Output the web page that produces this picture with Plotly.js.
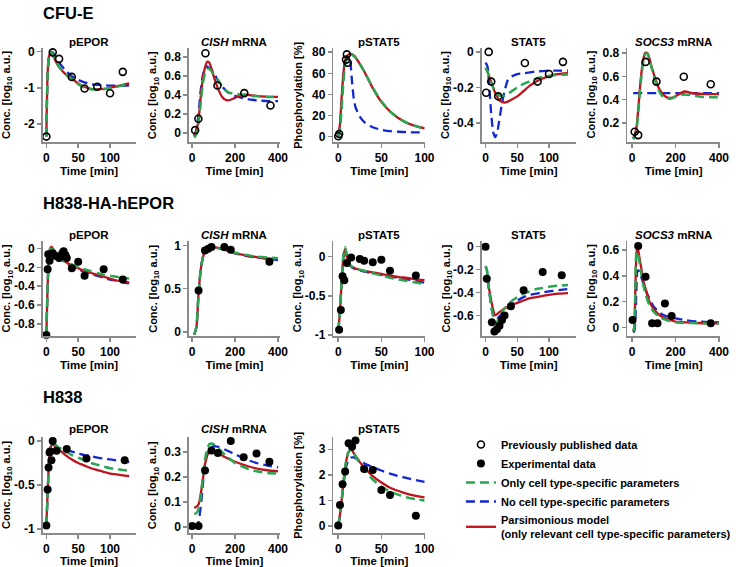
<!DOCTYPE html>
<html>
<head>
<meta charset="utf-8">
<script src="https://cdn.plot.ly/plotly-3.0.1.min.js"></script>
<style>html,body{margin:0;padding:0;background:#fff;}#chart{width:736px;height:567px;}</style>
</head>
<body>
<div id="chart"></div>
<script>
// ---------------- DATA ----------------
// Row 1: CFU-E (previously published data, open circles)
const cfuE_pEPOR_t      = [0,2,4,6,8,10,15,20,30,40,50,60,70,80,90,100,110,120,130];
const cfuE_pEPOR_red    = [-2.35,-0.6,-0.15,-0.05,-0.04,-0.1,-0.28,-0.43,-0.62,-0.75,-0.88,-0.98,-1.03,-1.04,-1.03,-1.0,-0.96,-0.92,-0.88];
const cfuE_pEPOR_green  = [-2.35,-0.65,-0.12,-0.03,-0.01,-0.07,-0.26,-0.42,-0.62,-0.76,-0.9,-1.0,-1.04,-1.05,-1.04,-1.01,-0.97,-0.93,-0.89];
const cfuE_pEPOR_blue   = [-2.35,-0.6,-0.2,-0.05,0.0,-0.02,-0.15,-0.3,-0.52,-0.68,-0.78,-0.85,-0.9,-0.92,-0.93,-0.94,-0.94,-0.94,-0.93];
const cfuE_pEPOR_dataT  = [0,10,20,40,60,80,100,120];
const cfuE_pEPOR_dataY  = [-2.35,-0.02,-0.2,-0.7,-1.02,-0.97,-1.15,-0.56];

const cfuE_CISH_t       = [10,20,30,40,50,60,70,80,100,120,140,160,180,200,240,280,320,360,400];
const cfuE_CISH_red     = [-0.03,0.03,0.14,0.38,0.58,0.69,0.75,0.74,0.6,0.47,0.38,0.345,0.35,0.37,0.405,0.395,0.385,0.38,0.38];
const cfuE_CISH_green   = [-0.05,-0.01,0.1,0.32,0.52,0.63,0.67,0.675,0.62,0.56,0.49,0.44,0.42,0.415,0.4,0.39,0.385,0.38,0.38];
const cfuE_CISH_blue    = [-0.03,0.04,0.2,0.45,0.61,0.68,0.7,0.68,0.64,0.55,0.49,0.44,0.41,0.39,0.365,0.35,0.34,0.335,0.335];
const cfuE_CISH_dataT   = [14,29,62,118,243,365];
const cfuE_CISH_dataY   = [0.03,0.15,0.84,0.5,0.42,0.29];

const cfuE_pSTAT5_t     = [0,2,4,6,8,10,12,14,16,18,20,25,30,40,50,60,70,80,90,100];
const cfuE_pSTAT5_red   = [0,12,38,60,72,76,78,78.5,78,77,75,69,62,46,33,24,17.5,13,10,8];
const cfuE_pSTAT5_green = [0,7,28,52,68,74,77,78,77.5,76.5,75,69,62,46.5,33.5,24,17.5,13,10,7.5];
const cfuE_pSTAT5_blue  = [0,10,32,58,70,74,74,70,52,36,28,19,14,9,6.5,5.2,4.7,4.3,4.1,4];
const cfuE_pSTAT5_dataT = [0,1,9,10,11];
const cfuE_pSTAT5_dataY = [0.5,2.5,73,78,70];

const cfuE_STAT5_t      = [0,3,6,9,12,15,18,21,25,30,35,40,50,60,70,80,90,100,110,120,130];
const cfuE_STAT5_red    = [-0.09,-0.11,-0.14,-0.17,-0.2,-0.23,-0.25,-0.27,-0.28,-0.285,-0.28,-0.27,-0.25,-0.22,-0.19,-0.167,-0.15,-0.136,-0.127,-0.122,-0.12];
const cfuE_STAT5_green  = [-0.09,-0.11,-0.14,-0.17,-0.2,-0.22,-0.235,-0.245,-0.248,-0.245,-0.235,-0.225,-0.2,-0.18,-0.165,-0.15,-0.14,-0.135,-0.13,-0.128,-0.127];
const cfuE_STAT5_blue   = [-0.06,-0.08,-0.2,-0.35,-0.45,-0.48,-0.46,-0.4,-0.31,-0.22,-0.16,-0.14,-0.125,-0.12,-0.115,-0.11,-0.108,-0.106,-0.105,-0.105,-0.105];
const cfuE_STAT5_dataT  = [1,5,9,20,62,82,100,122];
const cfuE_STAT5_dataY  = [-0.23,0.0,-0.167,-0.25,-0.062,-0.167,-0.124,-0.056];

const cfuE_SOCS3_t      = [5,10,20,30,40,50,60,70,80,90,100,120,140,160,180,200,240,280,320,360,400];
const cfuE_SOCS3_red    = [0.07,0.09,0.16,0.36,0.58,0.73,0.8,0.8,0.75,0.68,0.62,0.51,0.45,0.42,0.415,0.43,0.47,0.455,0.45,0.448,0.447];
const cfuE_SOCS3_green  = [0.06,0.08,0.14,0.33,0.55,0.71,0.79,0.795,0.75,0.67,0.6,0.49,0.43,0.41,0.41,0.425,0.445,0.435,0.425,0.42,0.42];
const cfuE_SOCS3_blue   = [0.456,0.456,0.456,0.456,0.456,0.456,0.456,0.456,0.456,0.456,0.456,0.456,0.456,0.456,0.456,0.456,0.456,0.456,0.456,0.456,0.456];
const cfuE_SOCS3_dataT  = [12,28,62,112,238,362];
const cfuE_SOCS3_dataY  = [0.125,0.096,0.724,0.555,0.596,0.532];

// Row 2: H838-HA-hEPOR (experimental data, filled circles)
const hepor_pEPOR_t     = [0,2,4,6,8,10,15,20,30,40,50,60,70,80,90,100,110,120,130];
const hepor_pEPOR_red   = [-0.92,-0.4,-0.1,0.0,0.02,0.0,-0.05,-0.09,-0.14,-0.18,-0.21,-0.24,-0.26,-0.28,-0.3,-0.32,-0.34,-0.35,-0.36];
const hepor_pEPOR_green = [-0.92,-0.4,-0.1,-0.01,0.0,-0.02,-0.06,-0.1,-0.14,-0.17,-0.2,-0.22,-0.24,-0.26,-0.28,-0.29,-0.3,-0.31,-0.32];
const hepor_pEPOR_blue  = [-0.92,-0.4,-0.1,0.0,0.01,-0.01,-0.06,-0.1,-0.15,-0.19,-0.22,-0.25,-0.27,-0.29,-0.31,-0.33,-0.34,-0.36,-0.37];
const hepor_pEPOR_dataT = [0,2,3,5,10,15,20,25,27,30,32,40,50,60,90,120];
const hepor_pEPOR_dataY = [-0.92,-0.22,-0.06,-0.13,-0.05,-0.08,-0.1,-0.05,-0.03,-0.07,-0.1,-0.21,-0.14,-0.29,-0.22,-0.33];

const hepor_CISH_t      = [10,20,30,40,50,60,80,100,120,150,200,250,300,350,400];
const hepor_CISH_red    = [-0.03,0.06,0.45,0.72,0.86,0.93,0.975,0.98,0.97,0.95,0.91,0.885,0.865,0.85,0.84];
const hepor_CISH_green  = [-0.03,0.06,0.45,0.72,0.86,0.93,0.975,0.98,0.97,0.95,0.915,0.89,0.87,0.86,0.85];
const hepor_CISH_blue   = [-0.03,0.06,0.45,0.72,0.86,0.93,0.975,0.98,0.97,0.948,0.908,0.88,0.86,0.845,0.83];
const hepor_CISH_dataT  = [30,60,75,90,150,180,360];
const hepor_CISH_dataY  = [0.48,0.94,0.96,0.98,0.98,0.95,0.81];

const hepor_pSTAT5_t     = [0,2,4,6,8,10,12,15,20,30,40,50,60,70,80,90,100];
const hepor_pSTAT5_red   = [-0.95,-0.7,-0.3,0.0,0.1,0.0,-0.08,-0.12,-0.15,-0.18,-0.2,-0.22,-0.24,-0.26,-0.27,-0.29,-0.3];
const hepor_pSTAT5_green = [-0.95,-0.7,-0.3,0.02,0.12,0.02,-0.07,-0.12,-0.15,-0.18,-0.21,-0.24,-0.27,-0.29,-0.31,-0.33,-0.35];
const hepor_pSTAT5_blue  = [-0.95,-0.7,-0.3,0.0,0.1,0.0,-0.08,-0.13,-0.16,-0.19,-0.21,-0.23,-0.25,-0.27,-0.29,-0.31,-0.33];
const hepor_pSTAT5_dataT = [1,3,5,7,10,15,25,30,40,50,60,90];
const hepor_pSTAT5_dataY = [-0.93,-0.68,-0.25,-0.3,-0.08,-0.01,-0.03,-0.05,-0.07,-0.04,-0.18,-0.24];

const hepor_STAT5_t     = [0,2,5,10,15,18,20,25,30,40,50,60,70,80,90,100,115,130];
const hepor_STAT5_red   = [-0.25,-0.27,-0.35,-0.5,-0.6,-0.59,-0.58,-0.56,-0.54,-0.51,-0.49,-0.47,-0.45,-0.44,-0.43,-0.42,-0.41,-0.405];
const hepor_STAT5_green = [-0.17,-0.2,-0.35,-0.55,-0.67,-0.66,-0.63,-0.58,-0.54,-0.48,-0.44,-0.41,-0.39,-0.37,-0.36,-0.35,-0.34,-0.335];
const hepor_STAT5_blue  = [-0.17,-0.2,-0.35,-0.55,-0.63,-0.63,-0.62,-0.59,-0.56,-0.51,-0.47,-0.44,-0.42,-0.41,-0.4,-0.39,-0.38,-0.37];
const hepor_STAT5_dataT = [0,2,10,14,18,22,26,30,40,60,90,120];
const hepor_STAT5_dataY = [0.0,-0.28,-0.66,-0.74,-0.72,-0.69,-0.64,-0.6,-0.52,-0.38,-0.22,-0.25];

const hepor_SOCS3_t     = [5,10,15,20,25,30,40,50,60,80,100,130,160,200,250,300,400];
const hepor_SOCS3_red   = [-0.03,0.0,0.3,0.57,0.62,0.58,0.48,0.38,0.31,0.2,0.14,0.09,0.065,0.045,0.038,0.034,0.031];
const hepor_SOCS3_green = [-0.03,0.0,0.32,0.58,0.59,0.55,0.44,0.34,0.27,0.17,0.12,0.075,0.055,0.04,0.035,0.032,0.03];
const hepor_SOCS3_blue  = [-0.04,-0.03,0.05,0.3,0.44,0.44,0.4,0.35,0.3,0.22,0.16,0.11,0.085,0.07,0.055,0.045,0.039];
const hepor_SOCS3_dataT = [2,28,62,92,117,151,182,362];
const hepor_SOCS3_dataY = [0.057,0.631,0.393,0.031,0.031,0.186,0.088,0.031];

// Row 3: H838 (experimental data, filled circles)
const h838_pEPOR_t      = [0,2,4,6,8,10,15,20,30,40,50,60,70,80,90,100,110,120,130];
const h838_pEPOR_red    = [-0.96,-0.6,-0.25,-0.1,-0.05,-0.04,-0.07,-0.1,-0.16,-0.21,-0.25,-0.28,-0.31,-0.33,-0.35,-0.37,-0.38,-0.39,-0.4];
const h838_pEPOR_green  = [-0.96,-0.6,-0.25,-0.08,-0.04,-0.03,-0.05,-0.08,-0.12,-0.16,-0.19,-0.22,-0.25,-0.27,-0.29,-0.31,-0.32,-0.33,-0.34];
const h838_pEPOR_blue   = [-0.96,-0.6,-0.25,-0.08,-0.04,-0.03,-0.05,-0.08,-0.1,-0.12,-0.14,-0.16,-0.17,-0.19,-0.2,-0.21,-0.22,-0.23,-0.24];
const h838_pEPOR_dataT  = [0,2,3.5,5,6,8,10,16,32,63,123];
const h838_pEPOR_dataY  = [-0.96,-0.55,-0.3,-0.13,-0.12,-0.22,0.0,-0.11,-0.09,-0.2,-0.22];

const h838_CISH_t       = [10,20,30,40,50,60,70,80,90,100,120,150,200,250,300,350,400];
const h838_CISH_red     = [0.075,0.08,0.09,0.13,0.19,0.25,0.285,0.3,0.305,0.303,0.295,0.28,0.26,0.245,0.233,0.226,0.222];
const h838_CISH_green   = [0.05,0.055,0.07,0.12,0.2,0.27,0.31,0.33,0.333,0.33,0.315,0.29,0.255,0.235,0.222,0.215,0.213];
const h838_CISH_blue    = [-0.005,0.0,0.02,0.08,0.17,0.25,0.29,0.31,0.318,0.322,0.32,0.31,0.29,0.27,0.255,0.245,0.238];
const h838_CISH_dataT   = [0,30,60,90,120,180,240,300,360];
const h838_CISH_dataY   = [0.003,0.003,0.225,0.305,0.295,0.343,0.278,0.293,0.26];

const h838_pSTAT5_t     = [0,3,6,9,12,15,18,20,25,30,40,50,60,70,80,90,100];
const h838_pSTAT5_red   = [0,0.7,1.7,2.5,2.9,3.0,2.85,2.75,2.5,2.3,1.95,1.7,1.5,1.37,1.26,1.18,1.12];
const h838_pSTAT5_green = [0,0.7,1.7,2.5,2.9,3.0,2.85,2.72,2.45,2.2,1.82,1.55,1.35,1.22,1.12,1.05,1.0];
const h838_pSTAT5_blue  = [0,0.7,1.6,2.3,2.6,2.68,2.68,2.65,2.55,2.45,2.3,2.17,2.05,1.95,1.87,1.8,1.73];
const h838_pSTAT5_dataT = [0,2,5,8,12,16,20,30,40,50,60,90];
const h838_pSTAT5_dataY = [0.02,0.82,1.63,2.13,3.24,3.1,3.34,2.23,2.19,1.41,1.21,0.4];

// Tick labels
const ticksT140 = [0,50,100];       const ticksT140Text = ['0','50','100'];
const ticksT400 = [0,200,400];      const ticksT400Text = ['0','200','400'];

const sectionTitles = ['CFU-E','H838-HA-hEPOR','H838'];
const panelTitles = ['pEPOR','<i>CISH</i> mRNA','pSTAT5','STAT5','<i>SOCS3</i> mRNA'];
const legendNames = ['Previously published data','Experimental data','Only cell type-specific parameters','No cell type-specific parameters','Parsimonious model<br>(only relevant cell type-specific parameters)'];

// ---------------- LAYOUT GEOMETRY (pixels) ----------------
const W = 736, H = 567;
const colPx = [[43,137],[191,283],[337,430],[487,582],[634,728]];
const rowPx = [[48,142],[241,336],[437,533]];
const rowTitleY = [41.5,235,429];
const sectionY = [13,203,397];
const yTitleOffset = 36;

const concTitle = 'Conc. [log<sub>10</sub> a.u.]';
const phosTitle = 'Phosphorylation [%]';

const panels = [
 {r:0,c:0,t:cfuE_pEPOR_t,red:cfuE_pEPOR_red,green:cfuE_pEPOR_green,blue:cfuE_pEPOR_blue,dt:cfuE_pEPOR_dataT,dy:cfuE_pEPOR_dataY,open:true,xr:[-6,140],yr:[-2.5,0.1],xt:ticksT140,xtt:ticksT140Text,yt:[-2,-1,0],ytt:['-2','-1','0'],ytitle:concTitle},
 {r:0,c:1,t:cfuE_CISH_t,red:cfuE_CISH_red,green:cfuE_CISH_green,blue:cfuE_CISH_blue,dt:cfuE_CISH_dataT,dy:cfuE_CISH_dataY,open:true,xr:[-15,409],yr:[-0.095,0.895],xt:ticksT400,xtt:ticksT400Text,yt:[0,0.2,0.4,0.6,0.8],ytt:['0','0.2','0.4','0.6','0.8'],ytitle:concTitle},
 {r:0,c:2,t:cfuE_pSTAT5_t,red:cfuE_pSTAT5_red,green:cfuE_pSTAT5_green,blue:cfuE_pSTAT5_blue,dt:cfuE_pSTAT5_dataT,dy:cfuE_pSTAT5_dataY,open:true,xr:[-5.7,101],yr:[-5,84],xt:ticksT140,xtt:ticksT140Text,yt:[0,20,40,60,80],ytt:['0','20','40','60','80'],ytitle:phosTitle},
 {r:0,c:3,t:cfuE_STAT5_t,red:cfuE_STAT5_red,green:cfuE_STAT5_green,blue:cfuE_STAT5_blue,dt:cfuE_STAT5_dataT,dy:cfuE_STAT5_dataY,open:true,xr:[-6,142],yr:[-0.507,0.022],xt:ticksT140,xtt:ticksT140Text,yt:[-0.4,-0.2,0],ytt:['-0.4','-0.2','0'],ytitle:concTitle},
 {r:0,c:4,t:cfuE_SOCS3_t,red:cfuE_SOCS3_red,green:cfuE_SOCS3_green,blue:cfuE_SOCS3_blue,dt:cfuE_SOCS3_dataT,dy:cfuE_SOCS3_dataY,open:true,xr:[-23,405],yr:[0.037,0.843],xt:ticksT400,xtt:ticksT400Text,yt:[0.2,0.4,0.6,0.8],ytt:['0.2','0.4','0.6','0.8'],ytitle:concTitle},
 {r:1,c:0,t:hepor_pEPOR_t,red:hepor_pEPOR_red,green:hepor_pEPOR_green,blue:hepor_pEPOR_blue,dt:hepor_pEPOR_dataT,dy:hepor_pEPOR_dataY,open:false,xr:[-6,140],yr:[-0.93,0.08],xt:ticksT140,xtt:ticksT140Text,yt:[-0.8,-0.6,-0.4,-0.2,0],ytt:['-0.8','-0.6','-0.4','-0.2','0'],ytitle:concTitle},
 {r:1,c:1,t:hepor_CISH_t,red:hepor_CISH_red,green:hepor_CISH_green,blue:hepor_CISH_blue,dt:hepor_CISH_dataT,dy:hepor_CISH_dataY,open:false,xr:[-15,409],yr:[-0.045,1.05],xt:ticksT400,xtt:ticksT400Text,yt:[0,0.5,1],ytt:['0','0.5','1'],ytitle:concTitle},
 {r:1,c:2,t:hepor_pSTAT5_t,red:hepor_pSTAT5_red,green:hepor_pSTAT5_green,blue:hepor_pSTAT5_blue,dt:hepor_pSTAT5_dataT,dy:hepor_pSTAT5_dataY,open:false,xr:[-5.7,101],yr:[-1.01,0.2],xt:ticksT140,xtt:ticksT140Text,yt:[-1,-0.5,0],ytt:['-1','-0.5','0'],ytitle:concTitle},
 {r:1,c:3,t:hepor_STAT5_t,red:hepor_STAT5_red,green:hepor_STAT5_green,blue:hepor_STAT5_blue,dt:hepor_STAT5_dataT,dy:hepor_STAT5_dataY,open:false,xr:[-6,142],yr:[-0.78,0.05],xt:ticksT140,xtt:ticksT140Text,yt:[-0.6,-0.4,-0.2,0],ytt:['-0.6','-0.4','-0.2','0'],ytitle:concTitle},
 {r:1,c:4,t:hepor_SOCS3_t,red:hepor_SOCS3_red,green:hepor_SOCS3_green,blue:hepor_SOCS3_blue,dt:hepor_SOCS3_dataT,dy:hepor_SOCS3_dataY,open:false,xr:[-23,405],yr:[-0.067,0.67],xt:ticksT400,xtt:ticksT400Text,yt:[0,0.2,0.4,0.6],ytt:['0','0.2','0.4','0.6'],ytitle:concTitle},
 {r:2,c:0,t:h838_pEPOR_t,red:h838_pEPOR_red,green:h838_pEPOR_green,blue:h838_pEPOR_blue,dt:h838_pEPOR_dataT,dy:h838_pEPOR_dataY,open:false,xr:[-6,140],yr:[-1.045,0.045],xt:ticksT140,xtt:ticksT140Text,yt:[-1,-0.5,0],ytt:['-1','-0.5','0'],ytitle:concTitle},
 {r:2,c:1,t:h838_CISH_t,red:h838_CISH_red,green:h838_CISH_green,blue:h838_CISH_blue,dt:h838_CISH_dataT,dy:h838_CISH_dataY,open:false,xr:[-15,409],yr:[-0.025,0.359],xt:ticksT400,xtt:ticksT400Text,yt:[0,0.1,0.2,0.3],ytt:['0','0.1','0.2','0.3'],ytitle:concTitle},
 {r:2,c:2,t:h838_pSTAT5_t,red:h838_pSTAT5_red,green:h838_pSTAT5_green,blue:h838_pSTAT5_blue,dt:h838_pSTAT5_dataT,dy:h838_pSTAT5_dataY,open:false,xr:[-5.7,101],yr:[-0.27,3.48],xt:ticksT140,xtt:ticksT140Text,yt:[0,1,2,3],ytt:['0','1','2','3'],ytitle:phosTitle}
];

// ---------------- BUILD ----------------
const FONT = 'Liberation Sans, Arial, sans-serif';
const GREEN = '#2aa552', BLUE = '#1428d2', RED = '#be141e', AXC = '#8a8a8a';
const DASH = '9px,5px';
const traces = [];
const layout = {
  width: W, height: H,
  margin: {l:0, r:0, t:0, b:0},
  paper_bgcolor: '#ffffff', plot_bgcolor: 'rgba(0,0,0,0)',
  font: {family: FONT, size: 11, color: '#000', weight: 'bold'},
  showlegend: true,
  legend: {x: 466/W, y: 1-430/H, xanchor: 'left', yanchor: 'top', bgcolor: 'rgba(0,0,0,0)',
           font: {family: FONT, size: 11, color: '#000', weight: 'bold'}, itemwidth: 30, tracegroupgap: 0},
  annotations: [], shapes: []
};

let legendOpenShown = false, legendFilledShown = false, legendLinesShown = false;
panels.forEach((p, i) => {
  const n = i + 1;
  const xa = n === 1 ? 'x' : 'x' + n, ya = n === 1 ? 'y' : 'y' + n;
  const xk = n === 1 ? 'xaxis' : 'xaxis' + n, yk = n === 1 ? 'yaxis' : 'yaxis' + n;
  const cx = colPx[p.c], ry = rowPx[p.r];
  const showLines = !legendLinesShown; legendLinesShown = true;
  traces.push({x: p.t, y: p.blue, xaxis: xa, yaxis: ya, mode: 'lines', name: legendNames[3], legendrank: 4,
    showlegend: showLines, cliponaxis: false, line: {color: BLUE, width: 2.3, dash: DASH, shape: 'spline', smoothing: 0.6}, hoverinfo: 'skip'});
  traces.push({x: p.t, y: p.red, xaxis: xa, yaxis: ya, mode: 'lines', name: legendNames[4], legendrank: 5,
    showlegend: showLines, cliponaxis: false, line: {color: RED, width: 2.3, shape: 'spline', smoothing: 0.6}, hoverinfo: 'skip'});
  traces.push({x: p.t, y: p.green, xaxis: xa, yaxis: ya, mode: 'lines', name: legendNames[2], legendrank: 3,
    showlegend: showLines, cliponaxis: false, line: {color: GREEN, width: 2.5, dash: DASH, shape: 'spline', smoothing: 0.6}, hoverinfo: 'skip'});
  let showMk = false;
  if (p.open && !legendOpenShown) { showMk = true; legendOpenShown = true; }
  if (!p.open && !legendFilledShown) { showMk = true; legendFilledShown = true; }
  traces.push({x: p.dt, y: p.dy, xaxis: xa, yaxis: ya, mode: 'markers', cliponaxis: false,
    name: p.open ? legendNames[0] : legendNames[1], legendrank: p.open ? 1 : 2, showlegend: showMk,
    marker: p.open ? {symbol: 'circle-open', size: 7, color: '#000', line: {width: 1.6, color: '#000'}}
                   : {symbol: 'circle', size: 8, color: '#000'}, hoverinfo: 'skip'});
  const axBase = {showgrid: false, zeroline: false, showline: true, linecolor: AXC, linewidth: 1.5,
    ticks: 'outside', ticklen: 4, tickwidth: 1.5, tickcolor: AXC, automargin: false,
    tickfont: {family: FONT, size: 12, color: '#000', weight: 'bold'}};
  layout[xk] = Object.assign({}, axBase, {domain: [cx[0]/W, cx[1]/W], anchor: ya, range: p.xr,
    tickmode: 'array', tickvals: p.xt, ticktext: p.xtt,
    title: {text: 'Time [min]', standoff: 3, font: {family: FONT, size: 11.5, color: '#000', weight: 'bold'}}});
  layout[yk] = Object.assign({}, axBase, {domain: [1 - ry[1]/H, 1 - ry[0]/H], anchor: xa, range: p.yr,
    tickmode: 'array', tickvals: p.yt, ticktext: p.ytt});
  // y-axis title at fixed distance from axis line
  layout.annotations.push({xref: 'paper', yref: 'paper', x: (cx[0] - yTitleOffset)/W, y: 1 - (ry[0] + ry[1]) / 2 / H,
    xanchor: 'center', yanchor: 'middle', textangle: -90, showarrow: false, text: p.ytitle,
    font: {family: FONT, size: 11, color: '#000', weight: 'bold'}});
  layout.annotations.push({xref: 'paper', yref: 'paper', x: (cx[0] + cx[1]) / 2 / W, y: 1 - rowTitleY[p.r] / H,
    xanchor: 'center', yanchor: 'middle', showarrow: false, text: panelTitles[p.c],
    font: {family: FONT, size: 11.5, color: '#000', weight: 'bold'}});
});

sectionTitles.forEach((s, i) => {
  layout.annotations.push({xref: 'paper', yref: 'paper', x: 41/W, y: 1 - sectionY[i]/H, xanchor: 'left', yanchor: 'middle',
    showarrow: false, text: s, font: {family: FONT, size: 16.5, color: '#000', weight: 'bold'}});
});

Plotly.newPlot('chart', traces, layout, {staticPlot: true, displayModeBar: false});
</script>
</body>
</html>
